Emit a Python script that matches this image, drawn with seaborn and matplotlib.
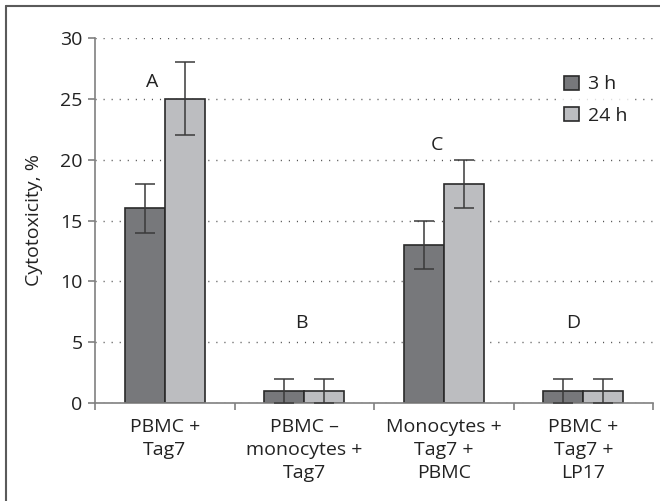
import matplotlib
matplotlib.use("Agg")
import matplotlib.pyplot as plt
import seaborn as sns
import pandas as pd
import numpy as np
from matplotlib.lines import Line2D

categories = ["PBMC +\nTag7", "PBMC \u2013\nmonocytes +\nTag7", "Monocytes +\nTag7 +\nPBMC", "PBMC +\nTag7 +\nLP17"]
series = ["3 h", "24 h"]
values_3h = [16, 1, 13, 1]
values_24h = [25, 1, 18, 1]
err_3h = [2, 1, 2, 1]
err_24h = [3, 1, 2, 1]
letters = ["A", "B", "C", "D"]
letter_x = [-0.09, -0.02, -0.05, -0.07]
letter_y = [26.4, 6.6, 21.2, 6.6]
yticks = [0, 5, 10, 15, 20, 25, 30]

colors = ["#77787b", "#bcbdc0"]

df = pd.DataFrame({
    "group": categories * 2,
    "time": [series[0]] * 4 + [series[1]] * 4,
    "value": values_3h + values_24h,
    "err": err_3h + err_24h,
})

sns.set_style("white")
plt.rcParams["font.family"] = ["Open Sans", "DejaVu Sans"]
FS = 14

fig = plt.figure(figsize=(6.6, 5.01), dpi=100)
ax = fig.add_axes([95 / 660, 1 - 403 / 501, (653 - 95) / 660, (403 - 38) / 501])

sns.barplot(data=df, x="group", y="value", hue="time", order=categories,
            hue_order=series, palette=colors, width=0.57, gap=0,
            edgecolor="#2a2a2a", linewidth=1.2, errorbar=None, ax=ax,
            legend=False, saturation=1)

# error bars at bar centres
patches = [p for p in ax.patches if p.get_width() > 0][:8]
for p, (_, row) in zip(patches, df.iterrows()):
    cx = p.get_x() + p.get_width() / 2
    ax.errorbar(cx, row["value"], yerr=row["err"], fmt="none",
                ecolor="#3a3a3a", elinewidth=1.1, capsize=7, capthick=1.1, zorder=5)

ax.set_ylim(0, 30)
ax.set_xlim(-0.5, 3.5)
ax.set_yticks(yticks)
ax.set_ylabel("Cytotoxicity, %", fontsize=FS, color="#222222", labelpad=12)
ax.set_xlabel("")

ax.yaxis.grid(True, linestyle=(0, (0.8, 5.0)), color="#555555", linewidth=1.0)
ax.set_axisbelow(True)

for s in ["top", "right"]:
    ax.spines[s].set_visible(False)
for s in ["left", "bottom"]:
    ax.spines[s].set_color("#808080")
    ax.spines[s].set_linewidth(1.2)

ax.tick_params(axis="y", which="major", left=True, length=5, width=1.2,
               color="#808080", labelsize=FS, labelcolor="#222222", pad=4)
ax.set_xticks([0, 1, 2, 3])
ax.set_xticklabels(categories, fontsize=FS, color="#222222", linespacing=1.35)
ax.tick_params(axis="x", which="major", length=0, pad=11)
ax.set_xticks([-0.5, 0.5, 1.5, 2.5, 3.5], minor=True)
ax.tick_params(axis="x", which="minor", bottom=True, length=5, width=1.2, color="#808080")

for lx, ly, lt, xi in zip(letter_x, letter_y, letters, range(4)):
    ax.text(xi + lx, ly, lt, ha="center", va="center", fontsize=FS, color="#222222")

handles = [plt.Rectangle((0, 0), 1, 1, facecolor=c, edgecolor="#2a2a2a", linewidth=1.2)
           for c in colors]
leg = ax.legend(handles, series, loc="upper left", bbox_to_anchor=(0.813, 0.94),
                frameon=True, fontsize=FS, handlelength=0.75, handleheight=0.75,
                handletextpad=0.45, labelspacing=0.7, borderpad=0.3)
leg.get_frame().set_facecolor("white")
leg.get_frame().set_edgecolor("white")
for t in leg.get_texts():
    t.set_color("#222222")

# figure border (top and left visible)
fig.add_artist(Line2D([5.5 / 660, 1.0], [1 - 5.5 / 501, 1 - 5.5 / 501],
                      transform=fig.transFigure, color="#5a5a5a", linewidth=1.5))
fig.add_artist(Line2D([5.5 / 660, 5.5 / 660], [0, 1 - 5.5 / 501],
                      transform=fig.transFigure, color="#5a5a5a", linewidth=1.5))

fig.savefig("out.png", dpi=100)
